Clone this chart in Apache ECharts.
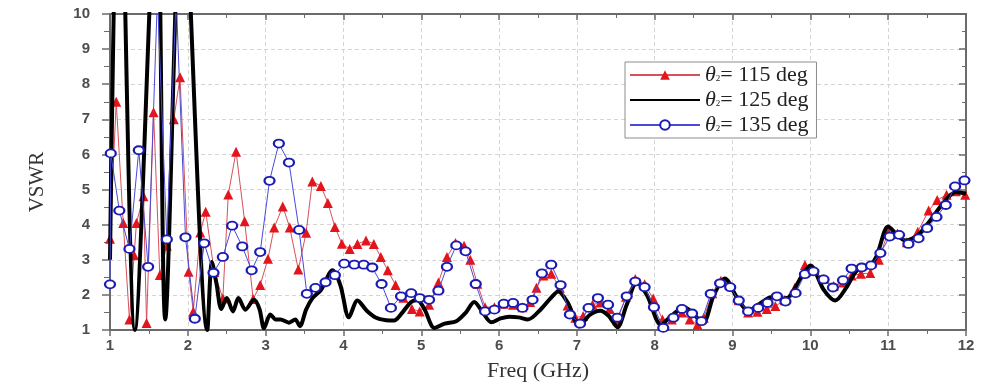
<!DOCTYPE html>
<html>
<head>
<meta charset="utf-8">
<script src="https://cdn.jsdelivr.net/npm/echarts@6/dist/echarts.min.js"></script>
<style>
  html, body { margin: 0; padding: 0; background: #fff; }
  #chart { width: 989px; height: 387px; }
</style>
</head>
<body>
<div id="chart"></div>
<script>
  // VSWR vs frequency for three theta values
  const xTicks = [1, 2, 3, 4, 5, 6, 7, 8, 9, 10, 11, 12];
  const yTicks = [1, 2, 3, 4, 5, 6, 7, 8, 9, 10];
  const seriesNames = ["115", "125", "135"];

  const vswr115 = [
    [1.0, 3.6], [1.08, 7.5], [1.17, 4.05], [1.25, 1.3], [1.31, 3.13], [1.34, 4.05],
    [1.43, 4.81], [1.47, 1.2], [1.56, 7.2], [1.64, 2.57], [1.73, 3.4], [1.82, 7.0],
    [1.9, 8.2], [2.01, 2.66], [2.07, 1.53], [2.16, 3.78], [2.23, 4.37], [2.34, 2.65],
    [2.45, 1.9], [2.52, 4.86], [2.62, 6.08], [2.73, 4.1], [2.84, 1.88], [2.93, 2.28],
    [3.03, 3.03], [3.11, 3.92], [3.22, 4.52], [3.31, 3.92], [3.42, 2.72], [3.52, 3.77],
    [3.6, 5.23], [3.71, 5.1], [3.8, 4.62], [3.89, 3.93], [3.98, 3.46], [4.08, 3.31],
    [4.18, 3.45], [4.29, 3.55], [4.39, 3.45], [4.48, 3.08], [4.57, 2.7], [4.67, 2.28],
    [4.77, 1.92], [4.88, 1.6], [4.98, 1.53], [5.1, 1.72], [5.22, 2.35], [5.33, 3.08],
    [5.44, 3.48], [5.55, 3.4], [5.63, 3.0], [5.72, 2.32], [5.82, 1.65], [5.94, 1.65],
    [6.06, 1.75], [6.18, 1.72], [6.3, 1.65], [6.4, 1.8], [6.48, 2.2], [6.57, 2.55],
    [6.67, 2.6], [6.78, 2.2], [6.88, 1.7], [6.98, 1.35], [7.08, 1.4], [7.2, 1.72],
    [7.3, 1.78], [7.42, 1.6], [7.52, 1.28], [7.63, 1.95], [7.75, 2.45], [7.87, 2.3],
    [7.98, 1.9], [8.1, 1.3], [8.22, 1.3], [8.35, 1.5], [8.45, 1.3], [8.55, 1.15],
    [8.63, 1.35], [8.74, 2.05], [8.85, 2.4], [8.96, 2.3], [9.08, 1.85], [9.2, 1.5],
    [9.32, 1.52], [9.44, 1.6], [9.55, 1.68], [9.67, 1.85], [9.8, 2.2], [9.93, 2.85],
    [10.04, 2.7], [10.17, 2.45], [10.3, 2.25], [10.42, 2.35], [10.53, 2.55], [10.65, 2.6],
    [10.77, 2.62], [10.88, 3.0], [11.0, 3.8], [11.12, 3.75], [11.24, 3.5], [11.38, 3.8],
    [11.52, 4.4], [11.63, 4.7], [11.75, 4.85], [11.87, 4.95], [11.99, 4.85]
  ];

  const vswr125 = [
    [1.0, 3.0], [1.12, 16], [1.32, 1.0], [1.6, 14], [1.71, 1.3], [1.93, 14], [2.25, 1.0],
    [2.31, 2.94], [2.37, 2.3], [2.43, 1.6], [2.5, 1.91], [2.58, 1.53], [2.65, 1.91],
    [2.74, 1.58], [2.85, 1.86], [2.92, 1.6], [2.98, 1.05], [3.06, 1.44], [3.13, 1.3],
    [3.19, 1.3], [3.3, 1.21], [3.38, 1.3], [3.44, 1.11], [3.52, 1.58], [3.6, 1.9],
    [3.71, 2.14], [3.86, 2.7], [3.96, 2.28], [4.07, 1.36], [4.18, 1.84], [4.3, 1.55],
    [4.42, 1.35], [4.55, 1.28], [4.65, 1.27], [4.74, 1.45], [4.87, 1.8], [4.95, 1.85],
    [5.04, 1.6], [5.17, 1.06], [5.3, 1.18], [5.45, 1.25], [5.57, 1.49], [5.68, 1.8],
    [5.79, 1.5], [5.9, 1.22], [6.02, 1.33], [6.13, 1.38], [6.25, 1.36], [6.37, 1.3],
    [6.54, 1.6], [6.66, 1.9], [6.76, 2.1], [6.89, 1.75], [7.03, 1.1], [7.16, 1.42],
    [7.3, 1.55], [7.41, 1.4], [7.52, 1.08], [7.64, 1.72], [7.77, 2.35], [7.9, 2.0],
    [8.08, 1.15], [8.22, 1.42], [8.38, 1.65], [8.48, 1.5], [8.62, 1.2], [8.76, 2.0],
    [8.9, 2.47], [9.05, 1.95], [9.2, 1.55], [9.35, 1.75], [9.5, 1.93], [9.62, 1.9],
    [9.72, 1.93], [9.88, 2.5], [10.0, 2.84], [10.17, 2.15], [10.32, 1.84], [10.46, 2.2],
    [10.6, 2.7], [10.75, 2.8], [10.85, 3.1], [11.0, 3.95], [11.1, 3.75], [11.22, 3.55],
    [11.38, 3.7], [11.55, 4.15], [11.72, 4.65], [11.87, 4.93], [12.0, 4.88]
  ];

  const vswr135 = [
    [1.0, 2.3], [1.01, 6.03], [1.12, 4.4], [1.25, 3.31], [1.37, 6.12], [1.49, 2.8],
    [1.61, 10.5], [1.73, 3.58], [1.85, 10.5], [1.97, 3.64], [2.09, 1.32], [2.21, 3.47],
    [2.33, 2.63], [2.45, 3.08], [2.57, 3.97], [2.7, 3.38], [2.82, 2.7], [2.93, 3.22],
    [3.05, 5.25], [3.17, 6.31], [3.3, 5.77], [3.43, 3.85], [3.53, 2.03], [3.64, 2.2],
    [3.77, 2.36], [3.89, 2.56], [4.01, 2.89], [4.14, 2.86], [4.26, 2.86], [4.37, 2.78],
    [4.49, 2.31], [4.61, 1.63], [4.74, 1.96], [4.87, 2.05], [4.98, 1.91], [5.1, 1.86],
    [5.22, 2.12], [5.33, 2.8], [5.45, 3.41], [5.57, 3.24], [5.7, 2.31], [5.82, 1.53],
    [5.94, 1.58], [6.06, 1.75], [6.18, 1.77], [6.3, 1.63], [6.43, 1.86], [6.55, 2.61],
    [6.67, 2.86], [6.79, 2.28], [6.91, 1.44], [7.04, 1.18], [7.15, 1.63], [7.27, 1.91],
    [7.4, 1.72], [7.52, 1.35], [7.64, 1.96], [7.75, 2.38], [7.87, 2.22], [7.99, 1.65],
    [8.11, 1.06], [8.24, 1.35], [8.35, 1.6], [8.48, 1.47], [8.6, 1.25], [8.72, 2.03],
    [8.84, 2.33], [8.97, 2.22], [9.08, 1.84], [9.2, 1.53], [9.33, 1.63], [9.45, 1.77],
    [9.57, 1.96], [9.68, 1.81], [9.81, 2.05], [9.93, 2.59], [10.04, 2.67], [10.17, 2.44],
    [10.29, 2.21], [10.42, 2.42], [10.53, 2.75], [10.66, 2.78], [10.78, 2.84], [10.9, 3.19],
    [11.02, 3.66], [11.14, 3.71], [11.26, 3.45], [11.39, 3.61], [11.5, 3.9], [11.62, 4.22],
    [11.74, 4.56], [11.86, 5.09], [11.98, 5.26]
  ];

  const chart = echarts.init(document.getElementById("chart"), null, { renderer: "canvas" });

  const labelStyle = {
    color: "#4d4d4d",
    fontFamily: "Liberation Sans",
    fontWeight: "bold",
    fontSize: 15,
  };
  const frameLine = { lineStyle: { color: "#6b6b6b", width: 2 } };
  const gridLine = { show: true, lineStyle: { color: "#d4d4d4", type: [4, 3], width: 1 } };

  const option = {
    animation: false,
    backgroundColor: "#fff",
    grid: { left: 110, right: 23, top: 14, bottom: 53 },
    legend: {
      left: 625,
      top: 62,
      orient: "vertical",
      selectedMode: false,
      data: [
        { name: seriesNames[0] },
        { name: seriesNames[1], itemStyle: { opacity: 0 } },
        { name: seriesNames[2] },
      ],
      itemWidth: 70,
      itemHeight: 12,
      itemGap: 3,
      padding: [2, 8, 2, 4],
      backgroundColor: "#fff",
      borderColor: "#8c8c8c",
      borderWidth: 1,
      formatter: (name) => "{th|θ}{sub|2}{t|= " + name + " deg}",
      textStyle: {
        color: "#222",
        fontFamily: "Liberation Serif",
        fontSize: 22,
        rich: {
          th: { fontFamily: "Liberation Serif", fontStyle: "italic", fontSize: 22, color: "#222" },
          sub: { fontFamily: "Liberation Serif", fontSize: 9, color: "#222", padding: [8, 0, 0, 0] },
          t: { fontFamily: "Liberation Serif", fontSize: 22, color: "#222" },
        },
      },
    },
    xAxis: [
      {
        type: "value",
        min: 1,
        max: 12,
        interval: 1,
        name: "Freq (GHz)",
        nameLocation: "middle",
        nameGap: 30,
        nameTextStyle: { fontFamily: "Liberation Serif", fontSize: 22, color: "#333" },
        axisLine: frameLine,
        axisTick: { inside: false, length: 6, lineStyle: { color: "#6b6b6b", width: 1.5 } },
        minorTick: { show: true, splitNumber: 2, length: 4, lineStyle: { color: "#6b6b6b" } },
        axisLabel: { ...labelStyle, margin: 8, customValues: xTicks },
        splitLine: gridLine,
      },
      {
        type: "value",
        position: "top",
        min: 1,
        max: 12,
        interval: 1,
        axisLine: frameLine,
        axisTick: { inside: true, length: 6, lineStyle: { color: "#6b6b6b", width: 1.5 } },
        minorTick: { show: true, splitNumber: 2, length: 4, lineStyle: { color: "#6b6b6b" } },
        axisLabel: { show: false },
        splitLine: { show: false },
      },
    ],
    yAxis: [
      {
        type: "value",
        min: 1,
        max: 10,
        interval: 1,
        name: "VSWR",
        nameLocation: "middle",
        nameGap: 62,
        nameTextStyle: { fontFamily: "Liberation Serif", fontSize: 21, color: "#333", padding: [0, 0, 0, -20] },
        axisLine: { show: true, ...frameLine },
        axisTick: { show: true, inside: false, length: 8, lineStyle: { color: "#6b6b6b", width: 1.5 } },
        minorTick: { show: true, splitNumber: 2, length: 6, lineStyle: { color: "#6b6b6b" } },
        axisLabel: { ...labelStyle, margin: 20, customValues: yTicks },
        splitLine: gridLine,
      },
      {
        type: "value",
        position: "right",
        min: 1,
        max: 10,
        interval: 1,
        axisLine: { show: true, ...frameLine },
        axisTick: { show: true, inside: true, length: 7, lineStyle: { color: "#6b6b6b", width: 1.5 } },
        minorTick: { show: true, splitNumber: 2, length: 4, lineStyle: { color: "#6b6b6b" } },
        axisLabel: { show: false },
        splitLine: { show: false },
      },
    ],
    series: [
      {
        name: seriesNames[0],
        type: "line",
        data: vswr115,
        symbol: "triangle",
        symbolSize: 10,
        itemStyle: { color: "#e3151c" },
        lineStyle: { color: "#d8505c", width: 1 },
        z: 2,
      },
      {
        name: seriesNames[1],
        type: "line",
        data: vswr125,
        symbol: "none",
        smooth: 0.3,
        itemStyle: { color: "#000" },
        lineStyle: { color: "#000", width: 4 },
        z: 3,
      },
      {
        name: seriesNames[2],
        type: "line",
        data: vswr135,
        symbol: "circle",
        symbolSize: [10, 8],
        itemStyle: { color: "#fff", borderColor: "#1a1ab4", borderWidth: 2 },
        lineStyle: { color: "#4a4ad8", width: 1 },
        z: 4,
      },
    ],
  };

  chart.setOption(option);
</script>
</body>
</html>
